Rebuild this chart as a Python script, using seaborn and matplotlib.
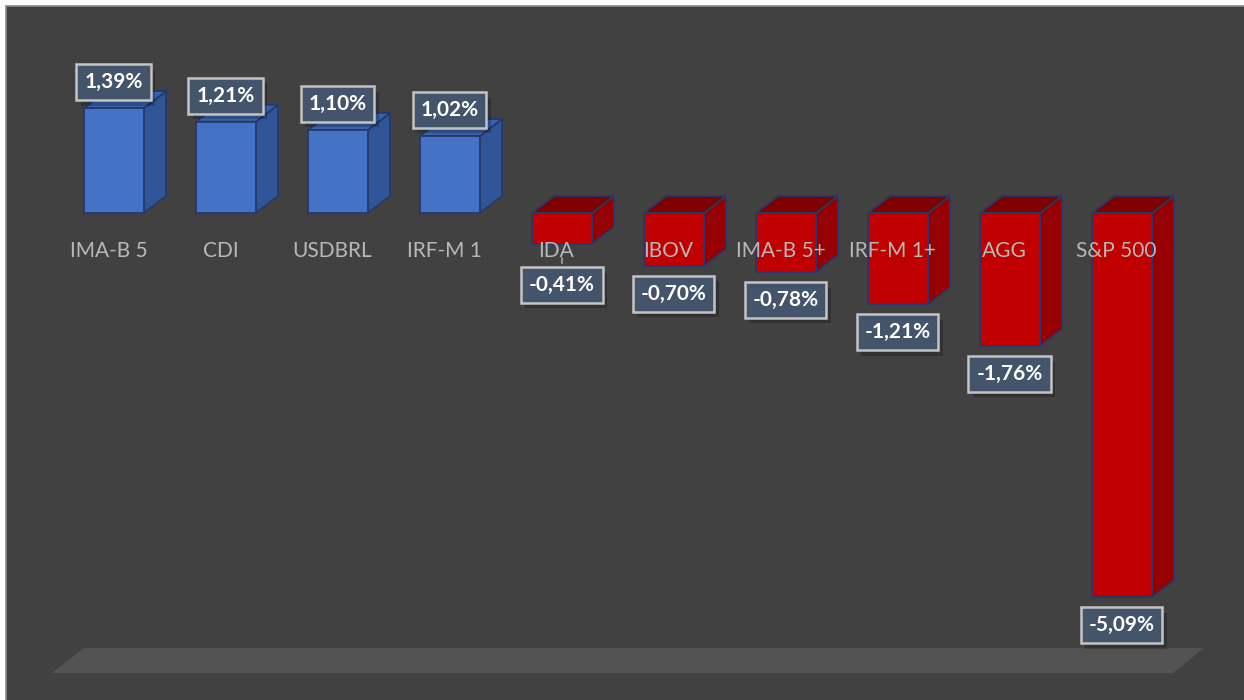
import numpy as np
import pandas as pd
import seaborn as sns
import matplotlib
matplotlib.use("Agg")
import matplotlib.pyplot as plt
from matplotlib.patches import Polygon, Rectangle
import matplotlib.patheffects as pe

categories = ["IMA-B 5", "CDI", "USDBRL", "IRF-M 1", "IDA", "IBOV",
              "IMA-B 5+", "IRF-M 1+", "AGG", "S&P 500"]
values = [1.39, 1.21, 1.10, 1.02, -0.41, -0.70, -0.78, -1.21, -1.76, -5.09]

W, H = 1244, 700
sns.set_theme(style="white")
plt.rcParams["font.family"] = ["Lato", "DejaVu Sans"]

fig = plt.figure(figsize=(W / 100, H / 100), dpi=100, facecolor="white")
ax = fig.add_axes([0, 0, 1, 1])
ax.set_facecolor("none")

# background panel
fig.patches.append(Rectangle((6 / W, -0.01), 1.0, (H - 6) / H + 0.01,
                             transform=fig.transFigure, fc="#414141",
                             ec="#8a8a8a", lw=1.2, zorder=-10))


def fpx(x, y):
    return (x / W, 1 - y / H)


# floor
fig.patches.append(Polygon([fpx(52, 673), fpx(84, 648), fpx(1204, 648), fpx(1173, 673)],
                           closed=True, transform=fig.transFigure, fc="#545353",
                           ec="none", zorder=-9))

df = pd.DataFrame({"cat": categories, "val": values,
                   "sign": ["pos" if v > 0 else "neg" for v in values]})
sns.barplot(data=df, x="cat", y="val", hue="sign",
            palette={"pos": "#4472c4", "neg": "#c00000"}, dodge=False,
            width=0.536, legend=False, errorbar=None, saturation=1,
            edgecolor="#25396a", linewidth=1.3, ax=ax)

# pixel scale: 112 px per category, 75.5 px per percent, baseline at y=213
xmin = -114 / 112
xmax = xmin + W / 112
ymax = 213 / 75.5
ymin = ymax - H / 75.5
ax.set_xlim(xmin, xmax)
ax.set_ylim(ymin, ymax)
ax.axis("off")

sx = (xmax - xmin) / W   # data per px
sy = (ymax - ymin) / H
ddx, ddy = 22 * sx, 17 * sy

face_cols = {"#4472c4": ("#2f5597", "#3862ad"), "#c00000": ("#960000", "#800000")}
for p in list(ax.patches):
    if not isinstance(p, Rectangle):
        continue
    x0, w = p.get_x(), p.get_width()
    y0, h = p.get_y(), p.get_height()
    top, bot = max(y0, y0 + h), min(y0, y0 + h)
    fc = matplotlib.colors.to_hex(p.get_facecolor())
    side_c, top_c = face_cols.get(fc, ("#555555", "#666666"))
    side = Polygon([(x0 + w, bot), (x0 + w + ddx, bot + ddy),
                    (x0 + w + ddx, top + ddy), (x0 + w, top)], closed=True,
                   fc=side_c, ec="#25396a", lw=1.3, zorder=1.5)
    topf = Polygon([(x0, top), (x0 + w, top), (x0 + w + ddx, top + ddy),
                    (x0 + ddx, top + ddy)], closed=True,
                   fc=top_c, ec="#25396a", lw=1.3, zorder=1.5)
    ax.add_patch(side)
    ax.add_patch(topf)
    p.set_zorder(1.6)

# category labels
for i, c in enumerate(categories):
    ax.text(i - 5.5 * sx, -44 * sy, c, ha="center", va="baseline",
            color="#b8b8b8", fontsize=15)

# data labels
for i, v in enumerate(values):
    txt = f"{v:.2f}".replace(".", ",") + "%"
    if v >= 0:
        off = (-0.5, 26)
        arrow = None
    else:
        off = (-0.5, -28)
        arrow = None
    if categories[i] == "IDA":
        off = (0, -41)
        arrow = dict(arrowstyle="-", color="#a6a6a6", lw=1.2, shrinkB=14 * 0.72)
    ann = ax.annotate(txt, xy=(i, v), xytext=(off[0] * 0.72, off[1] * 0.72),
                      textcoords="offset points", ha="center", va="center",
                      color="white", fontsize=15, fontweight="bold",
                      bbox=dict(boxstyle="square,pad=0.38", fc="#44546a",
                                ec="#c4c4c4", lw=1.8),
                      arrowprops=arrow, zorder=5)
    ann.get_bbox_patch().set_path_effects(
        [pe.SimplePatchShadow(offset=(3, -4), shadow_rgbFace="black", alpha=0.22),
         pe.Normal()])

fig.savefig("out.png", dpi=100, facecolor="white")
